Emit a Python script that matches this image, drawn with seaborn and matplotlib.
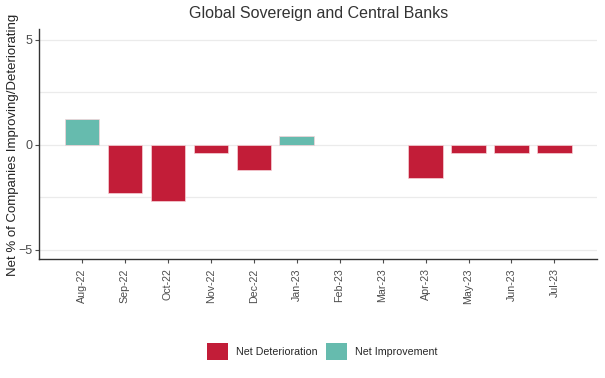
import pandas as pd
import numpy as np
import matplotlib.pyplot as plt
import seaborn as sns

# --- DATA ---
months = ['Aug-22', 'Sep-22', 'Oct-22', 'Nov-22', 'Dec-22', 'Jan-23',
          'Feb-23', 'Mar-23', 'Apr-23', 'May-23', 'Jun-23', 'Jul-23']
net_values = [1.2, -2.3, -2.7, -0.4, -1.2, 0.4, 0.0, 0.0, -1.6, -0.4, -0.4, -0.4]
legend_labels = ['Net Deterioration', 'Net Improvement']

df = pd.DataFrame({'month': months, 'value': net_values})
df['status'] = np.where(df['value'] > 0, legend_labels[1], legend_labels[0])

palette = {'Net Deterioration': '#C21D38', 'Net Improvement': '#66BBAE'}

sns.set_style('white')
plt.rcParams['font.family'] = ['Liberation Sans', 'DejaVu Sans']

fig = plt.figure(figsize=(6.05, 3.78), dpi=100)
ax = fig.add_axes([0.065, 0.314, 0.921, 0.608])

sns.barplot(data=df, x='month', y='value', hue='status', order=months,
            hue_order=legend_labels, palette=palette, dodge=False,
            saturation=1, width=0.8, edgecolor='#F6D3D8', linewidth=0.5,
            ax=ax)

# zero-height bars should not leave an outline on the baseline
for patch in ax.patches:
    if abs(patch.get_height()) < 1e-9:
        patch.set_linewidth(0)

ax.set_xlim(-0.99, 11.98)
ax.set_ylim(-5.45, 5.48)
ax.set_yticks([-5, 0, 5])
ax.set_yticks([-2.5, 2.5], minor=True)
ax.grid(axis='y', which='both', color='#EBEBEB', linewidth=0.9)
ax.set_axisbelow(True)

for side in ['top', 'right']:
    ax.spines[side].set_visible(False)
for side in ['left', 'bottom']:
    ax.spines[side].set_color('#333333')
    ax.spines[side].set_linewidth(1.0)

ax.tick_params(axis='x', rotation=90, labelsize=7.7, colors='#4D4D4D',
               length=3, width=0.8, bottom=True)
ax.tick_params(axis='y', labelsize=9, colors='#4D4D4D', length=3,
               width=0.8, left=True, pad=2)
ax.tick_params(axis='y', which='minor', left=False)

ax.set_xlabel('')
ax.set_ylabel('Net % of Companies Improving/Deteriorating', fontsize=9.5,
              color='#222222')
ax.yaxis.set_label_coords(-0.037, 0.5)

fig.text(0.526, 0.963, 'Global Sovereign and Central Banks', ha='center',
         va='center', fontsize=11.5, color='#333333')

handles, labels = ax.get_legend_handles_labels()
ax.legend_.remove()
fig.legend(handles, labels, loc='center', bbox_to_anchor=(0.532, 0.07),
           ncol=2, frameon=False, fontsize=7.7, handlelength=2.0,
           handleheight=2.0, columnspacing=0.8, handletextpad=0.7)

fig.savefig('out.png', dpi=100)
